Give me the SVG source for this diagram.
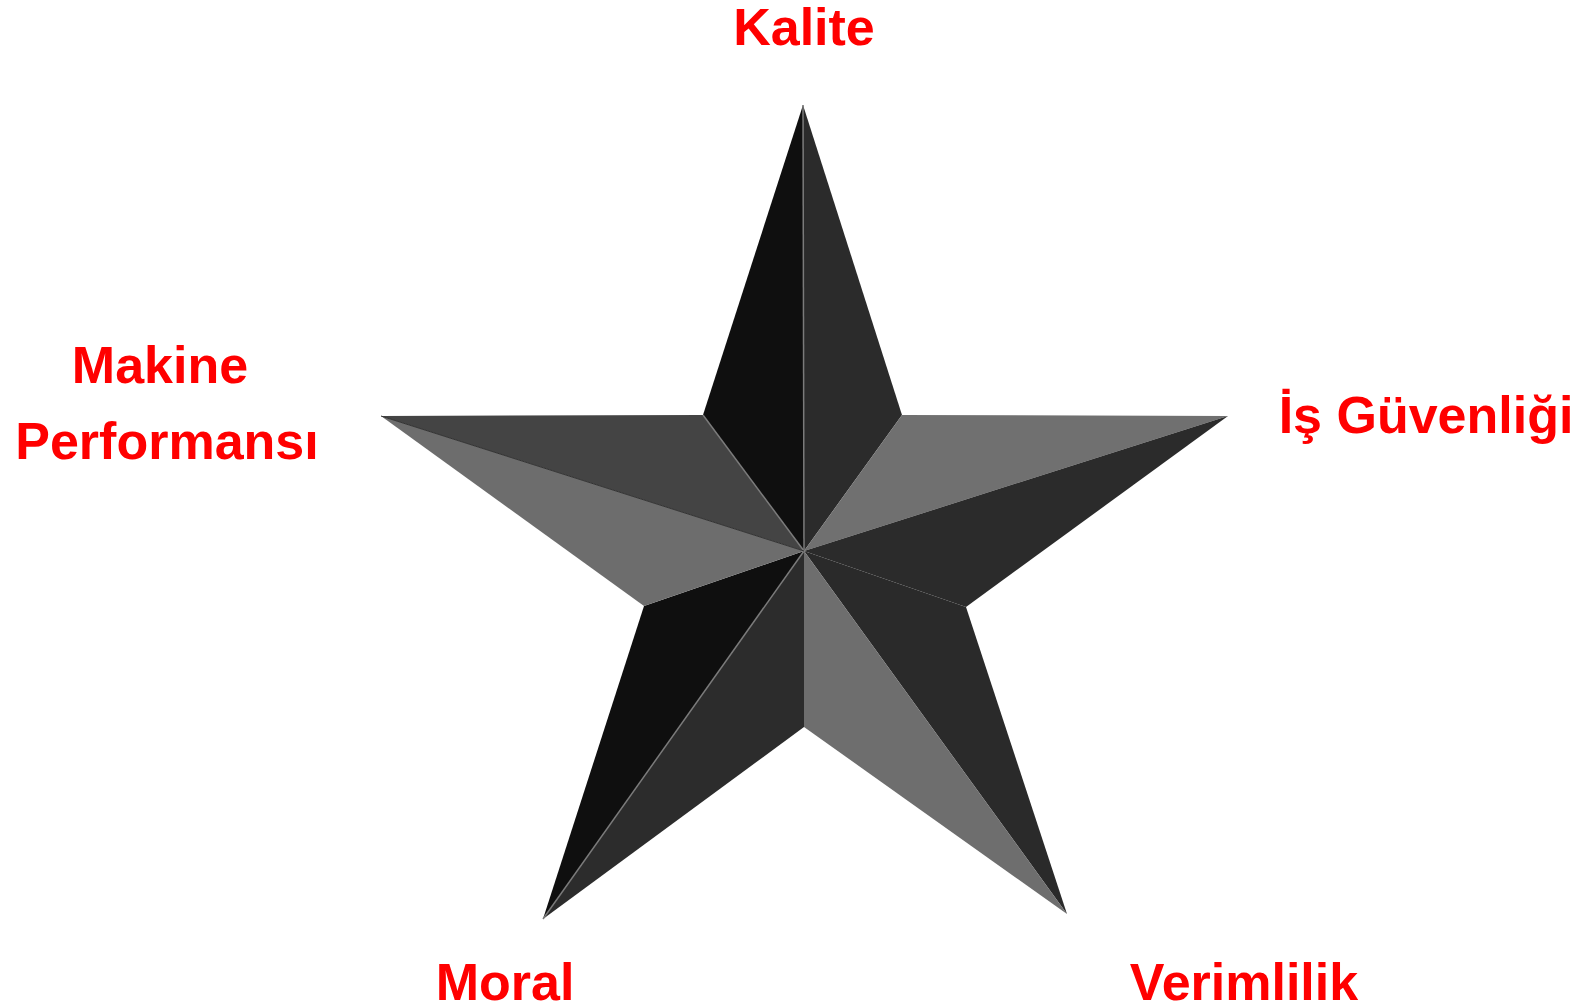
<svg xmlns="http://www.w3.org/2000/svg" width="1596" height="1008" viewBox="0 0 1596 1008">
<style>
.lbl{font-family:"Liberation Sans",Arial,sans-serif;font-weight:bold;font-size:52px;fill:#ff0000;text-anchor:middle}
.f{stroke:none}
.edge{stroke:#7a7a7a;stroke-width:1.5;fill:none}
</style>
<rect width="1596" height="1008" fill="#ffffff"/>
<g id="star">
<polygon class="f" fill="#0f0f0f" points="803,105 703,415 804,551"/>
<polygon class="f" fill="#2b2b2b" points="803,105 804,551 902,415"/>
<polygon class="f" fill="#707070" points="902,415 1228,416 804,551"/>
<polygon class="f" fill="#2b2b2b" points="1228,416 966,607 804,551"/>
<polygon class="f" fill="#2a2a2a" points="966,607 1067,914 804,551"/>
<polygon class="f" fill="#6e6e6e" points="1067,914 804,727 804,551"/>
<polygon class="f" fill="#2c2c2c" points="804,727 543,919 804,551"/>
<polygon class="f" fill="#0f0f0f" points="543,919 644,606 804,551"/>
<polygon class="f" fill="#6d6d6d" points="644,606 381,416 804,551"/>
<polygon class="f" fill="#444444" points="381,416 703,415 804,551"/>
<line class="edge" x1="803" y1="105" x2="804" y2="551"/>
<line class="edge" x1="543" y1="919" x2="804" y2="551"/>
<line class="edge" x1="703" y1="415" x2="804" y2="551" stroke="#5a5a5a"/>
<line x1="381" y1="416" x2="804" y2="551" stroke="#333" stroke-width="1"/>
</g>
<g id="kalite"><text class="lbl" x="804" y="45">Kalite</text></g>
<g id="makine"><text class="lbl" x="160" y="383">Makine</text><text class="lbl" x="167" y="459">Performansı</text></g>
<g id="is-guvenligi"><text class="lbl" x="1426" y="433">İş Güvenliği</text></g>
<g id="moral"><text class="lbl" x="505" y="1000">Moral</text></g>
<g id="verimlilik"><text class="lbl" x="1244" y="1000">Verimlilik</text></g>
</svg>
